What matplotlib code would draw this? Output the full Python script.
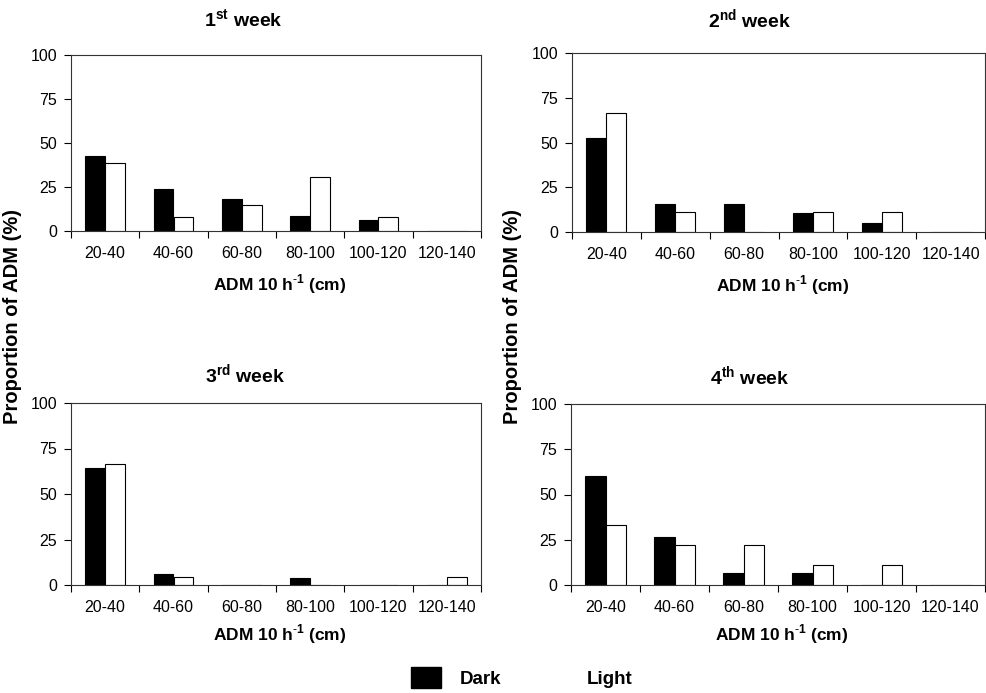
import numpy as np
import matplotlib
matplotlib.use("Agg")
import matplotlib.pyplot as plt
from matplotlib.patches import Rectangle

plt.rcParams['font.family'] = ['Liberation Sans', 'DejaVu Sans']
plt.rcParams['mathtext.fontset'] = 'custom'
plt.rcParams['mathtext.rm'] = 'Liberation Sans'
plt.rcParams['mathtext.bf'] = 'Liberation Sans:bold'

categories = ["20-40", "40-60", "60-80", "80-100", "100-120", "120-140"]
weeks = [r"1$^{\mathbf{st}}$ week", r"2$^{\mathbf{nd}}$ week",
         r"3$^{\mathbf{rd}}$ week", r"4$^{\mathbf{th}}$ week"]

dark_w1 = [42.6, 23.9, 18.2, 8.7, 6.1, 0]
light_w1 = [38.5, 7.7, 15.0, 30.8, 7.7, 0]
dark_w2 = [52.6, 15.8, 15.8, 10.5, 5.3, 0]
light_w2 = [66.7, 11.1, 0, 11.1, 11.1, 0]
dark_w3 = [64.3, 6.0, 0, 3.8, 0, 0]
light_w3 = [66.7, 4.4, 0, 0, 0, 4.4]
dark_w4 = [60.3, 26.6, 6.6, 6.6, 0, 0]
light_w4 = [33.3, 22.2, 22.2, 11.1, 11.1, 0]

dark = [dark_w1, dark_w2, dark_w3, dark_w4]
light = [light_w1, light_w2, light_w3, light_w4]

W, H = 986, 693
fig = plt.figure(figsize=(W / 100, H / 100), dpi=100)

# axes boxes in pixels: left, top, right, bottom
boxes = [(71, 55, 481, 231), (572, 53, 985, 232),
         (71, 403, 481, 585), (571, 404, 985, 585)]
title_pos = [(243, 20), (750, 20), (245, 375), (750, 377)]
xlab_pos = [(280, 284), (783, 285), (280, 634), (782, 634)]

x = np.arange(len(categories))
bw = 0.29
for i in range(4):
    l, t, r, b = boxes[i]
    ax = fig.add_axes([l / W, 1 - b / H, (r - l) / W, (b - t) / H])
    ax.bar(x - bw / 2, dark[i], bw, color='black', edgecolor='black', linewidth=0.8)
    ax.bar(x + bw / 2, light[i], bw, color='white', edgecolor='black', linewidth=0.8)
    ax.set_xlim(-0.5, len(categories) - 0.5)
    ax.set_ylim(0, 100)
    ax.set_yticks([0, 25, 50, 75, 100])
    ax.set_xticks(np.arange(-0.5, len(categories)), minor=False)
    ax.set_xticklabels([])
    ax.set_xticks(x, minor=True)
    ax.set_xticklabels(categories, minor=True)
    ax.tick_params(axis='x', which='major', direction='out', length=5, width=0.8)
    ax.tick_params(axis='x', which='minor', length=0, pad=11, labelsize=11.5)
    ax.tick_params(axis='y', direction='out', length=5, width=0.8, labelsize=11.5, pad=5)
    for s in ax.spines.values():
        s.set_linewidth(0.8)
        s.set_color('#333333')
    fig.text(title_pos[i][0] / W, 1 - title_pos[i][1] / H, weeks[i],
             ha='center', va='center', fontsize=14, fontweight='bold')
    fig.text(xlab_pos[i][0] / W, 1 - xlab_pos[i][1] / H, r"ADM 10 h$^{\mathbf{\text{-}1}}$ (cm)",
             ha='center', va='center', fontsize=12.5, fontweight='bold')

for xp in (13, 513):
    fig.text(xp / W, 1 - 317 / H, "Proportion of ADM (%)", rotation=90,
             ha='center', va='center', fontsize=14.5, fontweight='bold')

# legend drawn manually
fig.patches.append(Rectangle((411 / W, 1 - 688 / H), 30 / W, 21 / H,
                             transform=fig.transFigure, facecolor='black', edgecolor='black'))
fig.patches.append(Rectangle((537 / W, 1 - 688 / H), 30 / W, 21 / H,
                             transform=fig.transFigure, facecolor='white', edgecolor='white'))
fig.text(460 / W, 1 - 680 / H, "Dark", ha='left', va='center', fontsize=13.5, fontweight='bold')
fig.text(587 / W, 1 - 680 / H, "Light", ha='left', va='center', fontsize=13.5, fontweight='bold')

fig.savefig("out.png", dpi=100)
